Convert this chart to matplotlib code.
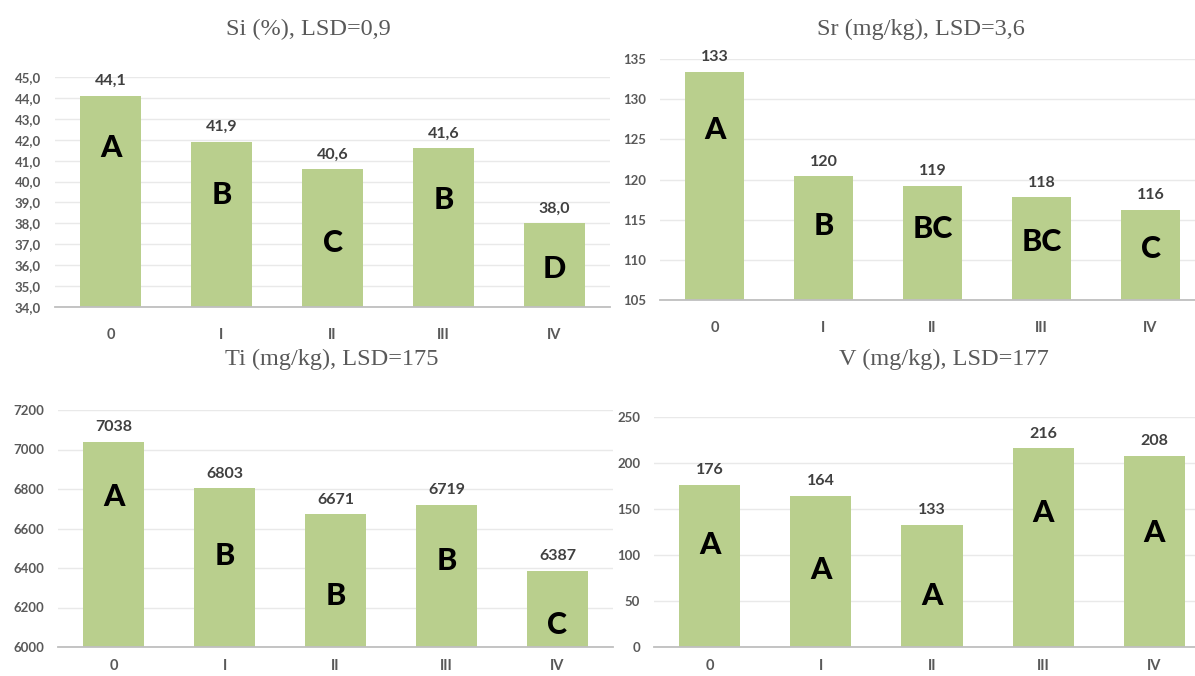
import matplotlib.pyplot as plt
from matplotlib.ticker import FuncFormatter

plt.rcParams['font.family'] = ['Lato', 'DejaVu Sans']

groups = ['0', 'I', 'II', 'III', 'IV']

si_vals = [44.1, 41.9, 40.6, 41.6, 38.0]
si_letters = ['A', 'B', 'C', 'B', 'D']
si_letter_y = [41.6, 39.35, 37.05, 39.1, 35.8]

sr_vals = [133.4, 120.4, 119.2, 117.8, 116.2]
sr_letters = ['A', 'B', 'BC', 'BC', 'C']
sr_letter_y = [126.2, 114.2, 113.8, 112.2, 111.3]

ti_vals = [7038, 6803, 6671, 6719, 6387]
ti_letters = ['A', 'B', 'B', 'B', 'C']
ti_letter_y = [6760, 6461, 6258, 6435, 6111]

v_vals = [176, 164, 133, 216, 208]
v_letters = ['A', 'A', 'A', 'A', 'A']
v_letter_y = [111, 84, 55, 146, 124]

bar_col = '#b9cf8d'
W, H = 1195, 676


def panel(rect, title, vals, letters, letter_y, ylim, step, fmt, title_xy, xpad):
    x0, y0, x1, y1 = rect
    ax = fig.add_axes([x0 / W, 1 - y1 / H, (x1 - x0) / W, (y1 - y0) / H])
    xs = range(len(groups))
    ax.bar(xs, vals, width=0.55, color=bar_col, zorder=2)
    ax.set_xlim(-0.5, len(groups) - 0.5)
    ax.set_ylim(*ylim)
    ticks = []
    t = ylim[0]
    while t <= ylim[1] + 1e-9:
        ticks.append(t)
        t += step
    ax.set_yticks(ticks)
    ax.yaxis.set_major_formatter(FuncFormatter(lambda v, p: fmt(v)))
    ax.set_xticks(list(xs))
    ax.set_xticklabels(groups)
    ax.grid(axis='y', color='#e9e9e9', lw=1, zorder=0)
    for s in ['top', 'right', 'left']:
        ax.spines[s].set_visible(False)
    ax.spines['bottom'].set_color('#bfbfbf')
    ax.spines['bottom'].set_linewidth(1.3)
    ax.tick_params(axis='both', length=0, labelsize=9.5, labelcolor='#595959')
    ax.tick_params(axis='x', pad=xpad, labelsize=10.5)
    ax.tick_params(axis='y', pad=10)
    for lab in ax.get_xticklabels() + ax.get_yticklabels():
        lab.set_fontweight('bold')
    for i, v in enumerate(vals):
        ax.annotate(fmt(v), (i, v), xytext=(0, 5.5), textcoords='offset points',
                    ha='center', va='bottom', fontsize=11.5, fontweight='bold',
                    color='#404040', annotation_clip=False)
        ax.text(i, letter_y[i], letters[i], ha='center', va='center',
                fontsize=22, fontweight='black', color='black', zorder=3)
    fig.text(title_xy[0] / W, 1 - title_xy[1] / H, title, ha='center', va='center',
             fontsize=17.5, color='#595959', family='Liberation Serif')
    return ax


fig = plt.figure(figsize=(W / 100, H / 100), dpi=100)

comma1 = lambda v: ('%.1f' % v).replace('.', ',')
intfmt = lambda v: '%.0f' % v

panel((55, 77, 610, 307), 'Si (%), LSD=0,9', si_vals, si_letters, si_letter_y,
      (34, 45), 1, comma1, (308, 29), 15)
panel((660, 59, 1205, 300), 'Sr (mg/kg), LSD=3,6', sr_vals, sr_letters, sr_letter_y,
      (105, 135), 5, intfmt, (921, 29), 15)
panel((58, 410, 613, 647), 'Ti (mg/kg), LSD=175', ti_vals, ti_letters, ti_letter_y,
      (6000, 7200), 200, intfmt, (332, 359), 8.5)
panel((654, 417, 1210, 647), 'V (mg/kg), LSD=177', v_vals, v_letters, v_letter_y,
      (0, 250), 50, intfmt, (944, 359), 8.5)

fig.savefig('out.png', dpi=100)
